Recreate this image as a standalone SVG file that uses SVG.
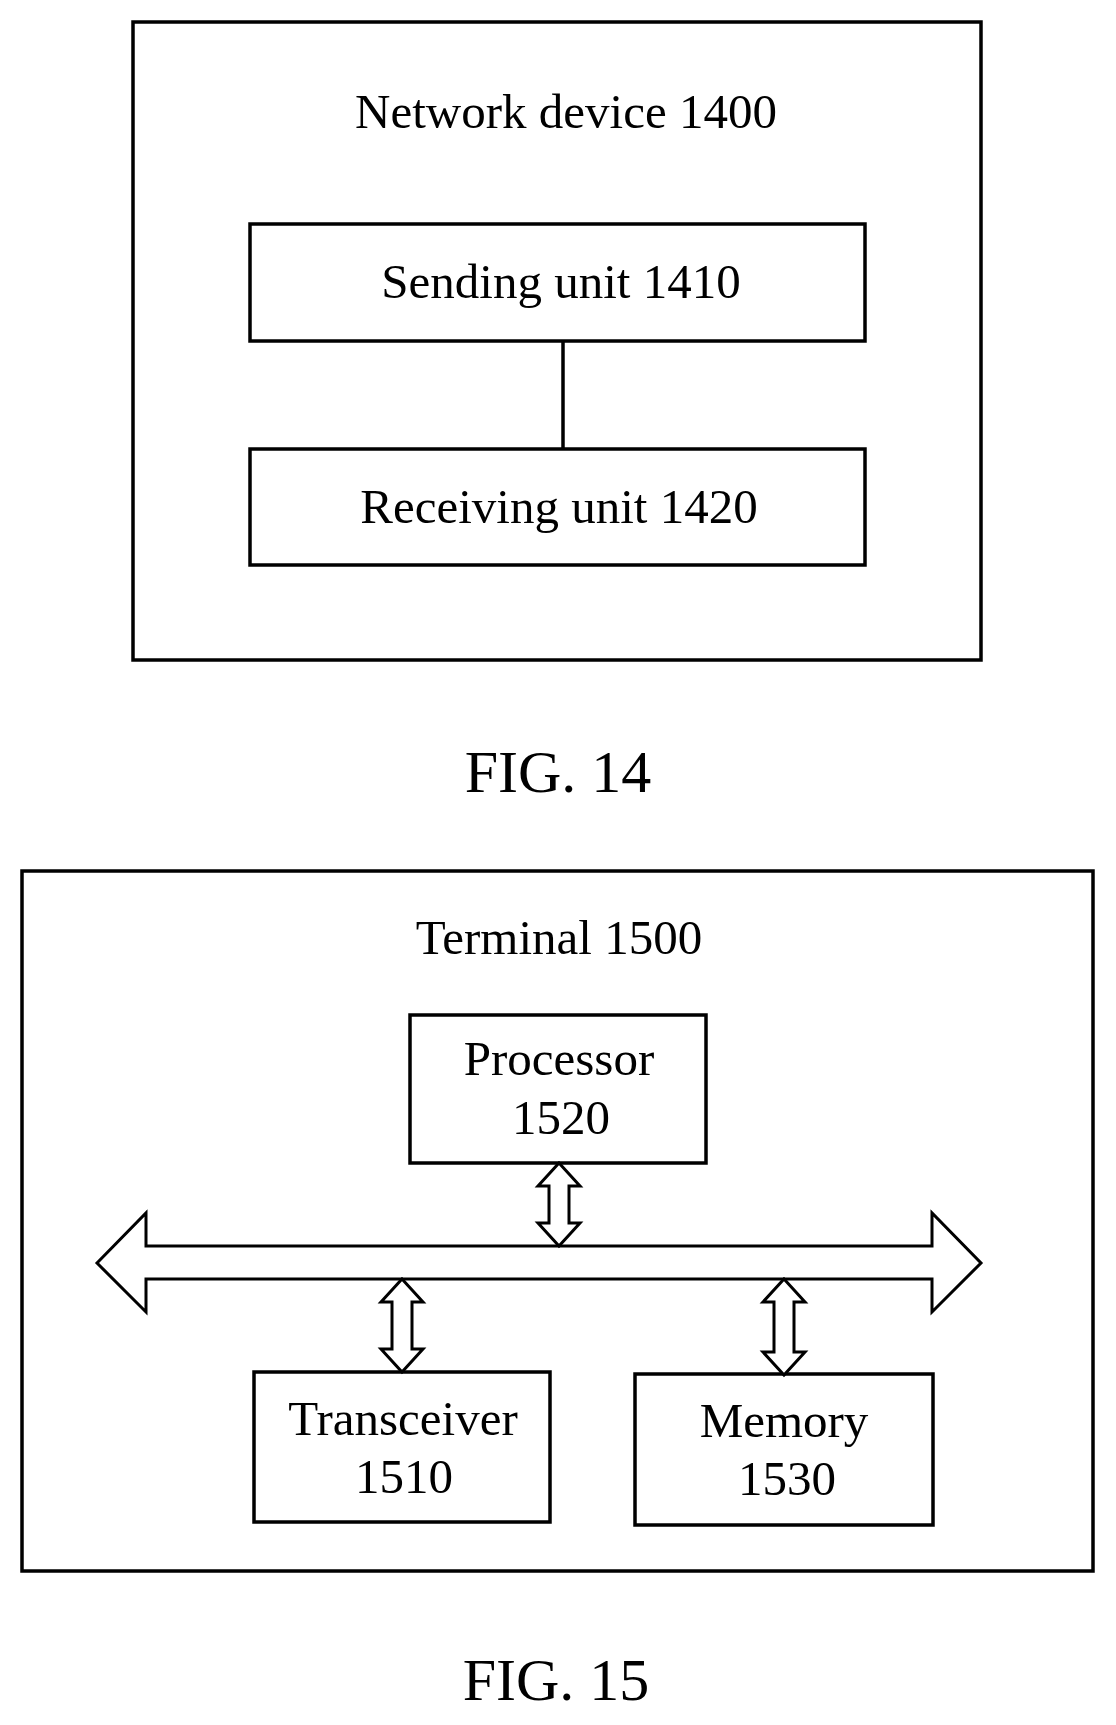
<svg xmlns="http://www.w3.org/2000/svg" width="1116" height="1725" viewBox="0 0 1116 1725">
<style>
.b{fill:#fff;stroke:#000;stroke-width:3.5}
.a{fill:#fff;stroke:#000;stroke-width:3;stroke-linejoin:miter}
text{font-family:"Liberation Serif","Times New Roman",serif;font-size:49px;text-anchor:middle;fill:#000}
.f{font-size:60px}
</style>
<rect width="1116" height="1725" fill="#fff"/>
<g id="fig14">
<rect class="b" x="133" y="22" width="848" height="638"/>
<text x="566" y="128">Network device 1400</text>
</g>
<g id="sending"><rect class="b" x="250" y="224" width="615" height="117"/><text x="561" y="298">Sending unit 1410</text></g>
<g id="receiving"><rect class="b" x="250" y="449" width="615" height="116"/><text x="559" y="523">Receiving unit 1420</text></g>
<text class="f" x="558" y="792">FIG. 14</text>
<g id="terminal"><rect class="b" x="22" y="871" width="1071" height="700"/><text x="559" y="954">Terminal 1500</text></g>
<g id="processor"><rect class="b" x="410" y="1015" width="296" height="148"/><text x="559" y="1075">Processor</text><text x="561" y="1134">1520</text></g>
<g id="transceiver"><rect class="b" x="254" y="1372" width="296" height="150"/><text x="403" y="1435">Transceiver</text><text x="404" y="1493">1510</text></g>
<g id="memory"><rect class="b" x="635" y="1374" width="298" height="151"/><text x="784" y="1437">Memory</text><text x="787" y="1495">1530</text></g>
<g id="connectors">
<line x1="563" y1="341" x2="563" y2="449" stroke="#000" stroke-width="3.5"/>
<path class="a" d="M97 1263 L146 1213 L146 1246 L932 1246 L932 1213 L981 1263 L932 1312 L932 1279 L146 1279 L146 1312 Z"/>
<path class="a" d="M559 1163 L580 1186 L569 1186 L569 1223 L580 1223 L559 1246 L538 1223 L549 1223 L549 1186 L538 1186 Z"/>
<path class="a" d="M402 1279 L423 1302 L412 1302 L412 1349 L423 1349 L402 1372 L381 1349 L392 1349 L392 1302 L381 1302 Z"/>
<path class="a" d="M784 1279 L805 1302 L794 1302 L794 1352 L805 1352 L784 1375 L763 1352 L774 1352 L774 1302 L763 1302 Z"/>
</g>
<text class="f" x="556" y="1700">FIG. 15</text>
</svg>
